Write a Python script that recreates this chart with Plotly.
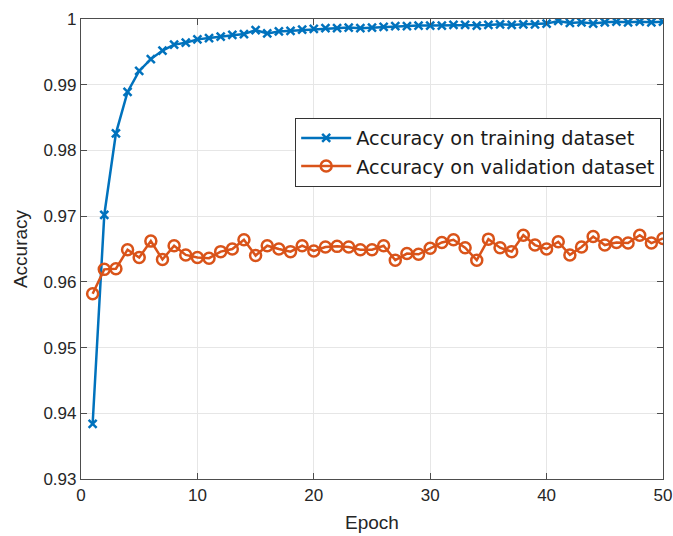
import plotly.graph_objects as go

# Per-epoch accuracy values
epochs = list(range(1, 51))
train_acc = [
    0.9384, 0.9702, 0.9826, 0.9889, 0.9921, 0.9939, 0.9952, 0.9961, 0.9964, 0.9969,
    0.9971, 0.9973, 0.9976, 0.9977, 0.9983, 0.9978, 0.9981, 0.9982, 0.9984, 0.9985,
    0.9986, 0.9986, 0.9987, 0.9986, 0.9987, 0.9988, 0.9989, 0.9989, 0.9990, 0.9990,
    0.9990, 0.9991, 0.9991, 0.9990, 0.9991, 0.9992, 0.9991, 0.9992, 0.9992, 0.9993,
    0.9997, 0.9994, 0.9995, 0.9993, 0.9995, 0.9996, 0.9995, 0.9996, 0.9995, 0.9996,
]
val_acc = [
    0.9582, 0.9619, 0.9620, 0.9649, 0.9637, 0.9662, 0.9634, 0.9655, 0.9641, 0.9637,
    0.9636, 0.9646, 0.9650, 0.9664, 0.9640, 0.9655, 0.9650, 0.9646, 0.9655, 0.9647,
    0.9653, 0.9654, 0.9653, 0.9649, 0.9649, 0.9655, 0.9633, 0.9643, 0.9642, 0.9651,
    0.9660, 0.9664, 0.9652, 0.9633, 0.9665, 0.9652, 0.9646, 0.9671, 0.9656, 0.9650,
    0.9661, 0.9641, 0.9653, 0.9669, 0.9656, 0.9660, 0.9659, 0.9671, 0.9659, 0.9666,
]
x_ticks = [0, 10, 20, 30, 40, 50]
y_ticks = [0.93, 0.94, 0.95, 0.96, 0.97, 0.98, 0.99, 1.0]
y_tick_text = ["0.93", "0.94", "0.95", "0.96", "0.97", "0.98", "0.99", "1"]

BLUE = "#0072BD"
ORANGE = "#D95319"
FONT = "Liberation Sans, Arial, sans-serif"
TEXT = "#262626"

fig = go.Figure()
fig.add_trace(go.Scatter(
    x=epochs, y=train_acc, mode="lines+markers",
    name="Accuracy on training dataset",
    line=dict(color=BLUE, width=2.5),
    marker=dict(symbol="x-thin", size=8, line=dict(color=BLUE, width=2.5)),
))
fig.add_trace(go.Scatter(
    x=epochs, y=val_acc, mode="lines+markers",
    name="Accuracy on validation dataset",
    line=dict(color=ORANGE, width=2.5),
    marker=dict(symbol="circle-open", size=11, color=ORANGE, line=dict(width=2.5)),
))

axis_common = dict(
    showline=True, linecolor="#4d4d4d", linewidth=1.2, mirror="ticks",
    ticks="inside", ticklen=6, tickcolor="#4d4d4d",
    showgrid=True, gridcolor="#e6e6e6", gridwidth=1,
    zeroline=False, automargin=False,
    tickfont=dict(family=FONT, size=17, color=TEXT),
)

fig.update_xaxes(
    range=[0, 50], tickvals=x_ticks, ticklabeloverflow="allow",
    title=dict(text="Epoch", font=dict(family=FONT, size=19, color=TEXT), standoff=12),
    **axis_common,
)
fig.update_yaxes(
    range=[0.93, 1.0], tickvals=y_ticks, ticktext=y_tick_text,
    title=dict(text="Accuracy", font=dict(family=FONT, size=19, color=TEXT), standoff=10),
    **axis_common,
)

fig.update_layout(
    width=673, height=536,
    margin=dict(l=81, r=10, t=19, b=57),
    plot_bgcolor="white", paper_bgcolor="white",
    font=dict(family=FONT, color=TEXT),
    legend=dict(
        x=0.368, y=0.785, xanchor="left", yanchor="top",
        bgcolor="white", bordercolor="#333333", borderwidth=1,
        font=dict(family="DejaVu Sans, sans-serif", size=19.3, color="#1a1a1a"),
        tracegroupgap=0, itemwidth=50,
    ),
)

fig.write_html("out.html")
